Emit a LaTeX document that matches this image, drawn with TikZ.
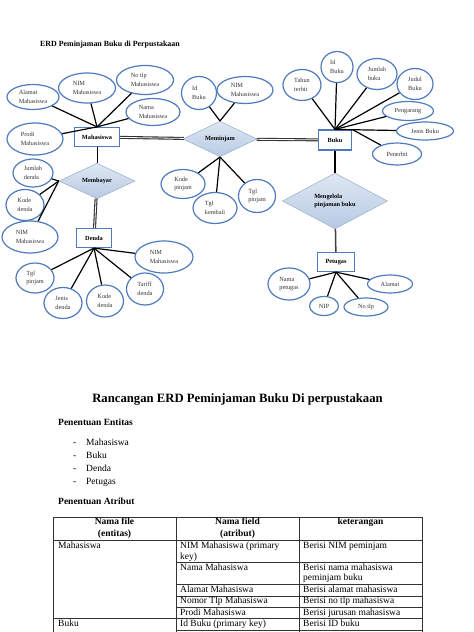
\documentclass[tikz,border=0pt]{standalone}
\usepackage{fontspec}
\setmainfont{Liberation Serif}
\usetikzlibrary{shapes.geometric}

\definecolor{attrblue}{HTML}{4F7BBE}
\definecolor{relfill}{HTML}{B7CAE3}
\definecolor{reledge}{HTML}{9FB4D2}
\definecolor{txtgray}{HTML}{333333}

\tikzset{
  attr/.style={ellipse,draw=attrblue,line width=1.2pt,fill=white,inner sep=0,
    align=left,text=txtgray,font=\fontsize{6.3}{8.6}\selectfont},
  entity/.style={rectangle,draw=attrblue,line width=1.2pt,fill=white,inner sep=0,
    font=\fontsize{6.3}{8.6}\selectfont\bfseries},
  rel/.style={diamond,draw=reledge,line width=0.6pt,top color=relfill!45,bottom color=relfill,
    inner sep=0,align=left,font=\fontsize{6.3}{8.6}\selectfont\bfseries},
  sz/.style 2 args={minimum width=#1,minimum height=#2},
  conn/.style={line width=1.2pt,black},
  dbl/.style={line width=1.1pt,draw=black!80,double=white,double distance=0.8pt},
  body/.style={anchor=mid west,inner sep=0,font=\fontsize{9.5}{12}\selectfont},
  bodyc/.style={anchor=mid,inner sep=0,font=\fontsize{9.5}{12}\selectfont\bfseries}
}

\begin{document}
\begin{tikzpicture}[x=1pt,y=-1pt]
  \useasboundingbox[fill=white] (0,0) rectangle (474,632);

  \node (title) at (40,44) [anchor=mid west,inner sep=0,font=\fontsize{7.9}{9}\selectfont\bfseries]{ERD Peminjaman Buku di Perpustakaan};

  % entitas dan relasi
  \node (mhs) at (97,137) [entity,sz={45}{19}]{Mahasiswa};
  \node (buku) at (335,140) [entity,sz={33}{20}]{Buku};
  \node (denda) at (94,238) [entity,sz={35}{19}]{Denda};
  \node (petugas) at (336,262) [entity,sz={37}{19}]{Petugas};

  \node (meminjam) at (220,139) [rel,sz={74}{25}]{Meminjam};
  \node (membayar) at (97,181) [rel,sz={76}{28}]{Membayar};
  \node (mengelola) at (335,201) [rel,sz={105}{44}]{Mengelola\\pinjaman buku};

  % atribut mahasiswa
  \node (mhsAlamat) at (33,97) [attr,sz={52}{25}]{Alamat\\Mahasiswa};
  \node (mhsNim) at (87,88) [attr,sz={57}{30}]{NIM\\Mahasiswa};
  \node (mhsTlp) at (145,80) [attr,sz={57}{29}]{No tlp\\Mahasiswa};
  \node (mhsNama) at (153,112) [attr,sz={54}{27}]{Nama\\Mahasiswa};
  \node (mhsProdi) at (35,139) [attr,sz={56}{32}]{Prodi\\Mahasiswa};

  % atribut meminjam
  \node (pjmId) at (199,93) [attr,sz={35}{33}]{Id\\Buku};
  \node (pjmNim) at (245,90) [attr,sz={56}{27}]{NIM\\Mahasiswa};
  \node (pjmKode) at (183,184) [attr,sz={44}{29}]{Kode\\pinjam};
  \node (pjmKembali) at (215,208) [attr,sz={44}{31}]{Tgl\\kembali};
  \node (pjmTgl) at (257,196) [attr,sz={37}{33}]{Tgl\\pinjam};

  % atribut buku
  \node (bkTahun) at (302,85) [attr,sz={38}{31}]{Tahun\\terbit};
  \node (bkId) at (337,67) [attr,sz={32}{31}]{Id\\Buku};
  \node (bkJumlah) at (377,74) [attr,sz={40}{31}]{Jumlah\\buku};
  \node (bkJudul) at (415,84) [attr,sz={36}{31}]{Judul\\Buku};
  \node (bkPengarang) at (408,111) [attr,sz={51}{19}]{Pengarang};
  \node (bkJenis) at (425,131) [attr,sz={57}{18}]{Jenis Buku};
  \node (bkPenerbit) at (397,154) [attr,sz={49}{22}]{Penerbit};

  % atribut petugas
  \node (ptgNama) at (289,284) [attr,sz={42}{32}]{Nama\\petugas};
  \node (ptgAlamat) at (390,284) [attr,sz={45}{18}]{Alamat};
  \node (ptgNip) at (324,306) [attr,sz={29}{19}]{NIP};
  \node (ptgTlp) at (366,307) [attr,sz={44}{18}]{No tlp};

  % atribut membayar
  \node (byrJumlah) at (33,173) [attr,sz={40}{28}]{Jumlah\\denda};
  \node (byrKode) at (25,205) [attr,sz={38}{31}]{Kode\\denda};
  \node (byrNim) at (30,237) [attr,sz={56}{32}]{NIM\\Mahasiswa};

  % atribut denda
  \node (ddTgl) at (35,278) [attr,sz={38}{30}]{Tgl\\pinjam};
  \node (ddJenis) at (63,303) [attr,sz={38}{31}]{Jenis\\denda};
  \node (ddKode) at (105,301) [attr,sz={37}{32}]{Kode\\denda};
  \node (ddTarif) at (145,289) [attr,sz={37}{32}]{Tariff\\denda};
  \node (ddNim) at (164,257) [attr,sz={58}{32}]{NIM\\Mahasiswa};

  % garis relasi
  \draw[dbl] (mhs) -- (meminjam);
  \draw[dbl] (meminjam) -- (buku);
  \draw[line width=0.9pt] (mhs) -- (membayar);
  \draw[dbl] (membayar) -- (denda);
  \draw[conn] (buku) -- (mengelola);
  \draw[line width=1.5pt,black!75] (mengelola) -- (petugas);

  % garis atribut
  \foreach \a in {mhsAlamat,mhsNim,mhsTlp,mhsNama,mhsProdi}
    \draw[conn] (mhs.north) -- (\a);
  \foreach \a in {pjmId,pjmNim}
    \draw[conn] (meminjam.north) -- (\a);
  \foreach \a in {pjmKode,pjmKembali,pjmTgl}
    \draw[conn] (meminjam.south) -- (\a);
  \foreach \a in {bkTahun,bkId,bkJumlah,bkJudul,bkPengarang,bkJenis}
    \draw[conn] (buku.north) -- (\a);
  \draw[conn] (buku.north east) -- (bkPenerbit);
  \foreach \a in {ptgNama,ptgAlamat,ptgNip,ptgTlp}
    \draw[conn] (petugas.south) -- (\a);
  \foreach \a in {byrJumlah,byrKode,byrNim}
    \draw[conn] (membayar.west) -- (\a);
  \foreach \a in {ddTgl,ddJenis,ddKode,ddTarif,ddNim}
    \draw[conn] (denda.south) -- (\a);

  % teks rancangan
  \node (judul) at (237.5,400) [anchor=mid,inner sep=0,font=\fontsize{12.7}{15}\selectfont\bfseries]{Rancangan ERD Peminjaman Buku Di perpustakaan};
  \node (entitas) at (58,423) [body,font=\fontsize{9.5}{12}\selectfont\bfseries]{Penentuan Entitas};
  \foreach \t [count=\i] in {Mahasiswa,Buku,Denda,Petugas}{
    \node (dash\i) at (73,430+13*\i) [body]{-};
    \node (ent\i) at (86,430+13*\i) [body]{\t};
  }
  \node (atribut) at (58,502) [body,font=\fontsize{9.5}{12}\selectfont\bfseries]{Penentuan Atribut};

  % tabel
  \draw[line width=0.8pt,black!80] (53,517) -- (422,517)
    (53,540) -- (422,540) (53,618) -- (422,618)
    (176,562) -- (422,562) (176,584) -- (422,584) (176,596) -- (422,596)
    (176,607) -- (422,607)
    (53,517) -- (53,632) (176,517) -- (176,632) (299,517) -- (299,632) (422,517) -- (422,632);
  \draw[line width=1.6pt,black!80] (176,630.5) -- (422,630.5);

  \node (h1) at (114.5,522.3) [bodyc]{Nama file};
  \node (h1b) at (114.5,534.3) [bodyc]{(entitas)};
  \node (h2) at (237.5,522.3) [bodyc]{Nama field};
  \node (h2b) at (237.5,534.3) [bodyc]{(atribut)};
  \node (h3) at (360.5,522.3) [bodyc]{keterangan};

  \node (c1) at (58,545.7) [body]{Mahasiswa};
  \node (c2) at (180,545.7) [body]{NIM Mahasiswa (primary};
  \node (c2b) at (180,556.7) [body]{key)};
  \node (c3) at (303,545.7) [body]{Berisi NIM peminjam};
  \node (c4) at (180,567.7) [body]{Nama Mahasiswa};
  \node (c5) at (303,567.7) [body]{Berisi nama mahasiswa};
  \node (c5b) at (303,578.3) [body]{peminjam buku};
  \node (c6) at (180,590) [body]{Alamat Mahasiswa};
  \node (c7) at (303,590) [body]{Berisi alamat mahasiswa};
  \node (c8) at (180,601.3) [body]{Nomor Tlp Mahasiswa};
  \node (c9) at (303,601.3) [body]{Berisi no tlp mahasiswa};
  \node (c10) at (180,612.7) [body]{Prodi Mahasiswa};
  \node (c11) at (303,612.7) [body]{Berisi jurusan mahasiswa};
  \node (c12) at (58,624) [body]{Buku};
  \node (c13) at (180,624) [body]{Id Buku (primary key)};
  \node (c14) at (303,624) [body]{Berisi ID buku};

\end{tikzpicture}
\end{document}
